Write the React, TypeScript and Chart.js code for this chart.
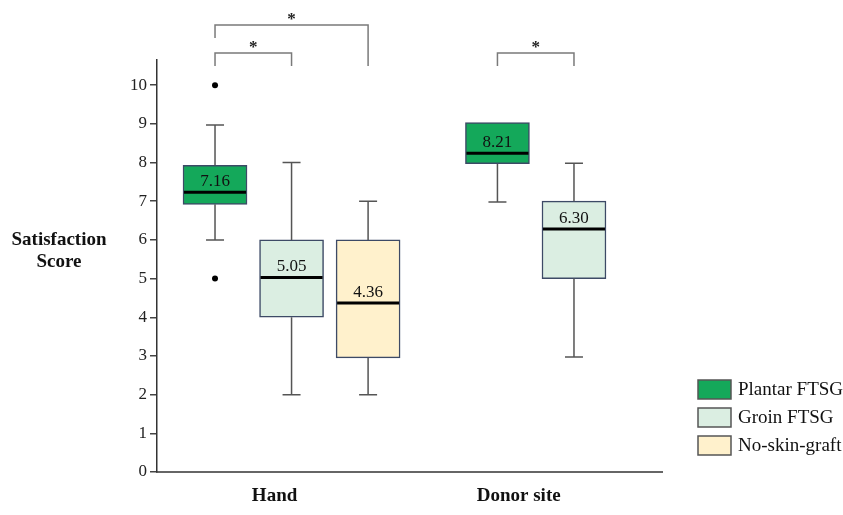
import React, { useEffect, useRef } from "react";
import { Chart, registerables } from "chart.js";
Chart.register(...registerables);

// ---------- data ----------
const categories = ["Hand", "Donor site"];
const seriesNames = ["Plantar FTSG", "Groin FTSG", "No-skin-graft"];
// box statistics per category: [min, q1, median, q3, max]  (null = no data)
const plantarBox = [
  [6, 6.92, 7.23, 7.93, 8.97],
  [6.98, 7.97, 8.24, 9.03, 9.03],
];
const groinBox = [
  [2, 4, 5.03, 6, 8],
  [2.97, 5, 6.28, 7, 7.98],
];
const noGraftBox = [[2, 2.95, 4.37, 6, 7], null];
const plantarMean = [7.16, 8.21];
const groinMean = [5.05, 6.3];
const noGraftMean = [4.36, null];
const plantarOutliers = [[10, 5], []];
const groinOutliers = [[], []];
const noGraftOutliers = [[], []];
const yTicks = [0, 1, 2, 3, 4, 5, 6, 7, 8, 9, 10];
const comparisons = [
  { category: 0, from: 0, to: 1, label: "*" },
  { category: 0, from: 0, to: 2, label: "*" },
  { category: 1, from: 0, to: 1, label: "*" },
];

// ---------- styling ----------
const seriesColors = ["#14a85a", "#dbeee2", "#fff1cc"];
const boxBorder = "#3d4a66";
const whiskerColor = "#555555";
const SERIF = "'Liberation Serif', 'Times New Roman', serif";
const GROUP_GAP = 3.69;
const pos = (c: number, s: number) => c * GROUP_GAP + s;

const series = [
  { box: plantarBox, mean: plantarMean, out: plantarOutliers },
  { box: groinBox, mean: groinMean, out: groinOutliers },
  { box: noGraftBox, mean: noGraftMean, out: noGraftOutliers },
];

const extrasPlugin = {
  id: "boxExtras",
  afterDatasetsDraw(chart: any) {
    const { ctx } = chart;
    const y = chart.scales.y;
    ctx.save();
    series.forEach((s, si) => {
      const meta = chart.getDatasetMeta(si);
      const ds = chart.data.datasets[si];
      meta.data.forEach((el: any, i: number) => {
        const raw = ds.data[i] as any;
        const ci = raw.ci;
        const b = s.box[ci];
        if (!b) return;
        const [mn, q1, med, q3, mx] = b;
        const cx = el.x;
        const half = el.width / 2;
        const capHalf = 9;
        ctx.strokeStyle = whiskerColor;
        ctx.lineWidth = 1.5;
        if (mx > q3) {
          ctx.beginPath();
          ctx.moveTo(cx, y.getPixelForValue(q3));
          ctx.lineTo(cx, y.getPixelForValue(mx));
          ctx.moveTo(cx - capHalf, y.getPixelForValue(mx));
          ctx.lineTo(cx + capHalf, y.getPixelForValue(mx));
          ctx.stroke();
        }
        if (mn < q1) {
          ctx.beginPath();
          ctx.moveTo(cx, y.getPixelForValue(q1));
          ctx.lineTo(cx, y.getPixelForValue(mn));
          ctx.moveTo(cx - capHalf, y.getPixelForValue(mn));
          ctx.lineTo(cx + capHalf, y.getPixelForValue(mn));
          ctx.stroke();
        }
        const my = y.getPixelForValue(med);
        ctx.strokeStyle = "#000";
        ctx.lineWidth = 3;
        ctx.beginPath();
        ctx.moveTo(cx - half + 1, my);
        ctx.lineTo(cx + half - 1, my);
        ctx.stroke();
        const m = s.mean[ci];
        if (m != null) {
          ctx.fillStyle = "#111";
          ctx.font = `17px ${SERIF}`;
          ctx.textAlign = "center";
          ctx.textBaseline = "middle";
          ctx.fillText(m.toFixed(2), cx, my - 10.5);
        }
      });
    });
    ctx.restore();
  },
  afterDraw(chart: any) {
    const { ctx, chartArea } = chart;
    const x = chart.scales.x;
    ctx.save();
    // comparison brackets
    const baseLine = chartArea.top + 6;
    comparisons.forEach((c) => {
      const level = c.to - c.from - 1;
      const yy = chartArea.top - 7 - level * 28;
      const x1 = x.getPixelForValue(pos(c.category, c.from));
      const x2 = x.getPixelForValue(pos(c.category, c.to));
      const legEnd = (slot: number) => {
        const shared = comparisons.some(
          (o) =>
            o !== c &&
            o.category === c.category &&
            o.to - o.from - 1 < level &&
            (o.from === slot || o.to === slot)
        );
        return shared ? yy + 13 : baseLine;
      };
      ctx.strokeStyle = "#7a7a7a";
      ctx.lineWidth = 1.5;
      ctx.beginPath();
      ctx.moveTo(x1, legEnd(c.from));
      ctx.lineTo(x1, yy);
      ctx.lineTo(x2, yy);
      ctx.lineTo(x2, legEnd(c.to));
      ctx.stroke();
      ctx.fillStyle = "#222";
      ctx.font = `bold 17px ${SERIF}`;
      ctx.textAlign = "center";
      ctx.textBaseline = "alphabetic";
      ctx.fillText(c.label, (x1 + x2) / 2, yy - 1.5);
    });
    // y-axis title (horizontal)
    ctx.fillStyle = "#111";
    ctx.font = `bold 19px ${SERIF}`;
    ctx.textAlign = "center";
    ctx.textBaseline = "middle";
    ctx.fillText("Satisfaction", 59, 240);
    ctx.fillText("Score", 59, 262);
    // legend
    const lx = 698;
    const ly = 380;
    seriesNames.forEach((name, i) => {
      const top = ly + i * 28;
      ctx.fillStyle = seriesColors[i];
      ctx.fillRect(lx, top, 33, 19);
      ctx.strokeStyle = "#555";
      ctx.lineWidth = 1.5;
      ctx.strokeRect(lx, top, 33, 19);
      ctx.fillStyle = "#111";
      ctx.font = `19px ${SERIF}`;
      ctx.textAlign = "left";
      ctx.textBaseline = "middle";
      ctx.fillText(name, lx + 40, top + 10);
    });
    ctx.restore();
  },
};

export default function App() {
  const ref = useRef<HTMLCanvasElement | null>(null);
  useEffect(() => {
    if (!ref.current) return;
    const datasets: any[] = series.map((s, si) => ({
      type: "bar",
      label: seriesNames[si],
      data: categories
        .map((_, ci) => (s.box[ci] ? { x: pos(ci, si), y: [s.box[ci]![1], s.box[ci]![3]], ci } : null))
        .filter((d) => d !== null),
      backgroundColor: seriesColors[si],
      borderColor: boxBorder,
      borderWidth: 1.5,
      borderSkipped: false,
      grouped: false,
      maxBarThickness: 64,
      barPercentage: 1,
      categoryPercentage: 1,
    }));
    const outlierPts: any[] = [];
    series.forEach((s, si) =>
      s.out.forEach((arr, ci) => arr.forEach((v) => outlierPts.push({ x: pos(ci, si), y: v })))
    );
    datasets.push({
      type: "scatter",
      label: "outliers",
      data: outlierPts,
      pointRadius: 3,
      pointBackgroundColor: "#000",
      pointBorderColor: "#000",
      pointBorderWidth: 0,
    });
    const chart = new Chart(ref.current, {
      type: "bar",
      data: { datasets },
      options: {
        animation: false,
        responsive: true,
        maintainAspectRatio: false,
        layout: { padding: { left: 112, right: 181, top: 60, bottom: 0 } },
        plugins: { legend: { display: false }, tooltip: { enabled: false } },
        scales: {
          x: {
            type: "linear",
            min: -0.758,
            max: 5.84,
            offset: false,
            grid: { display: false, drawTicks: false },
            border: { display: true, color: "#666", width: 2 },
            afterBuildTicks: (s: any) => {
              s.ticks = categories.map((_, ci) => ({
                value: (pos(ci, 0) + pos(ci, series.filter((ss) => ss.box[ci]).length - 1)) / 2,
              }));
            },
            afterFit: (s: any) => {
              s.height = 43;
            },
            ticks: {
              autoSkip: false,
              maxRotation: 0,
              padding: 13,
              labelOffset: -17,
              color: "#111",
              font: { family: SERIF, size: 19, weight: "bold" },
              callback: (_v: any, i: number) => categories[i],
            },
          },
          y: {
            type: "linear",
            min: 0,
            max: 10.65,
            afterBuildTicks: (s: any) => {
              s.ticks = yTicks.map((v) => ({ value: v }));
            },
            afterFit: (s: any) => {
              s.width = 45;
            },
            grid: {
              display: true,
              drawOnChartArea: false,
              drawTicks: true,
              tickLength: 7,
              color: "#444",
              lineWidth: 1.5,
            },
            border: { display: true, color: "#333", width: 1.5 },
            ticks: {
              padding: 3,
              color: "#222",
              font: { family: SERIF, size: 17 },
            },
          },
        },
      },
      plugins: [extrasPlugin],
    });
    return () => chart.destroy();
  }, []);
  return (
    <div style={{ position: "fixed", left: 0, top: 0, width: 843, height: 515, background: "#fff" }}>
      <canvas ref={ref} />
    </div>
  );
}
